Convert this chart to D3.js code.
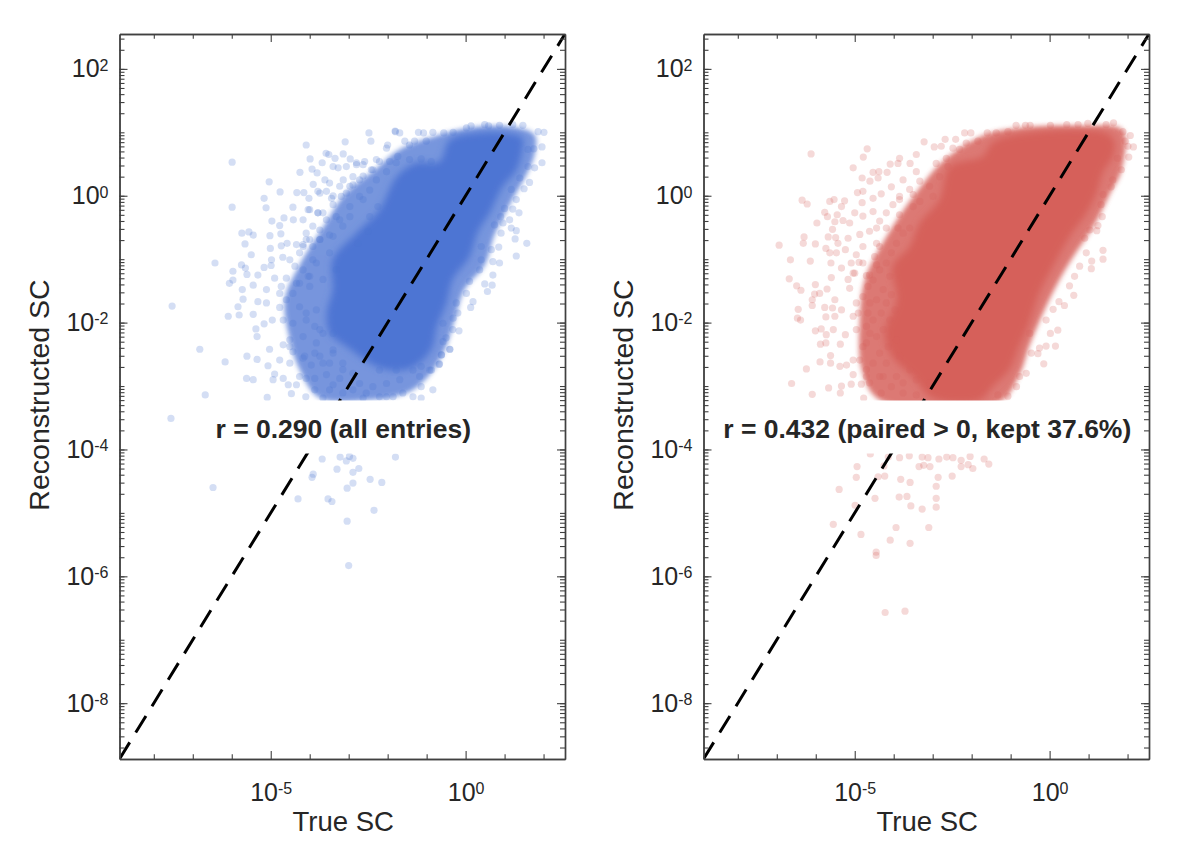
<!DOCTYPE html>
<html>
<head>
<meta charset="utf-8">
<title>True vs reconstructed SC</title>
<script src="https://cdn.jsdelivr.net/npm/d3@7"></script>
<style>
  body { margin: 0; background: #fff; }
  text { font-family: "Liberation Sans", Arial, sans-serif; fill: #262626; }
</style>
</head>
<body>
<svg id="chart" width="1192" height="844"></svg>
<script>
// all values are log10(True SC), log10(Reconstructed SC)
const logDomain = [-8.88, 2.55];
const yMajor = [2, 0, -2, -4, -6, -8];
const xMajor = [-5, 0];

// individually visible dots, left panel
const bluePoints = [
[-5.99,0.53],[-5.99,-0.18],[-5.04,0.22],[-4.76,0.06],[-5.17,-0.04],[-5.12,-0.19],[-4.97,-0.40],[-5.74,-0.59],[-5.56,-0.57],[-5.45,-0.62],
[-5.66,-0.76],[-5.50,-0.93],[-6.43,-1.06],[-5.97,-1.19],[-5.75,-1.09],[-5.65,-1.14],[-6.06,-1.38],[-5.97,-1.33],[-5.61,-1.24],[-5.33,-1.25],
[-5.17,-1.13],[-4.99,-1.10],[-5.73,-1.48],[-5.45,-1.41],[-5.02,-0.63],[-4.74,-0.60],[-4.09,0.80],[-3.09,0.85],[-2.48,0.99],[-2.43,0.86],
[-1.81,1.02],[-3.99,0.58],[-4.25,0.37],[-3.94,0.42],[-3.81,0.36],[-3.61,0.25],[-3.58,0.67],[-3.51,0.65],[-3.68,0.52],[-3.35,0.59],
[-3.14,0.66],[-2.96,0.58],[-3.27,0.44],[-4.33,0.05],[-4.15,0.05],[-3.91,0.18],[-3.79,0.07],[-4.02,-0.04],[-4.43,-0.18],[-4.66,-0.35],
[-4.42,-0.38],[-4.77,-0.47],[-5.01,-0.83],[-4.73,-0.79],[-4.58,-0.75],[-4.34,-0.77],[-4.98,-1.01],[-4.69,-0.97],[-4.17,-0.77],[-4.09,-0.59],
[-3.79,-0.27],[-4.04,-0.22],[-3.40,0.0],[-3.06,0.04],[-2.89,0.17],[-2.63,0.31],[-2.03,0.75],[-2.29,0.57],[-2.59,0.54],[-2.80,0.49],
[-3.23,0.15],[-3.57,0.07],[-3.74,-0.69],[-4.17,-0.38],[-4.38,-1.11],[-4.60,-1.30],[-4.26,-1.38],[-4.90,-1.30],[-5.11,-1.48],[-4.73,-1.43],
[-4.43,-1.54],[-4.04,-1.27],[-3.92,-1.01],
[-7.53,-1.74],[-6.09,-1.90],[-5.84,-1.75],[-5.71,-1.63],[-5.81,-1.88],[-5.45,-1.87],[-6.82,-2.42],[-6.17,-2.62],[-5.61,-2.53],[-5.35,-2.58],
[-5.62,-2.88],[-5.45,-2.90],[-6.68,-3.14],[-5.09,-3.18],[-7.56,-3.51],[-5.38,-2.10],[-5.35,-2.22],[-5.17,-2.02],[-5.33,-1.67],[-5.11,-1.69],
[-4.96,-1.96],[-4.77,-1.76],[-5.03,-2.42],[-5.07,-2.68],[-4.94,-2.90],[-4.68,-2.88],[-4.90,-2.81],[-4.55,-2.98],[-4.47,-3.12],[-4.26,-2.85],
[-4.09,-2.88],[-3.87,-2.88],[-4.34,-2.98],[-4.10,-3.17],[-3.87,-3.06],[-4.77,-2.59],[-4.51,-2.64],[-4.17,-2.56],[-3.96,-2.67],[-4.68,-2.35],
[-4.51,-2.38],[-4.43,-2.46],[-3.74,-2.53],[-3.57,-2.82],[-3.40,-2.98],[-3.66,-3.19],[-2.89,-3.06],[-2.55,-3.11],[-2.21,-3.17],[-1.86,-3.17],
[-1.61,-3.11],[-1.35,-3.17],[-1.14,-3.01],[-0.84,-3.06],[-1.14,-3.19],[-0.92,-2.75],[-0.67,-2.65],[-0.62,-2.51],[-0.41,-2.42],[-0.33,-2.11],
[-0.58,-2.30],
[-3.68,-4.15],[-3.22,-4.12],[-2.98,-4.11],[-3.06,-4.18],[-2.89,-4.14],[-1.80,-4.12],[-3.30,-4.31],[-2.74,-4.30],[-2.89,-4.36],[-3.91,-4.39],
[-3.94,-4.44],[-2.45,-4.47],[-2.15,-4.52],[-2.89,-4.53],[-3.04,-4.61],[-6.48,-4.60],[-4.30,-4.78],[-3.53,-4.78],[-3.43,-4.82],[-2.35,-4.96],
[-3.04,-5.13],[-3.00,-5.83],
[-1.80,1.01],[-1.69,0.99],[-1.56,0.86],[-1.21,1.00],[-1.08,0.99],[-0.84,1.00],[-0.56,0.99],[-0.32,1.00],[0.14,1.10],[0.02,1.07],
[0.49,1.12],[0.59,1.10],[0.87,1.11],[1.21,1.12],[1.47,1.11],[1.86,1.01],[2.01,1.00],[1.96,0.77],[1.75,0.74],[1.60,0.73],
[1.96,0.52],[1.77,0.44],[1.60,0.46],[1.39,0.28],[1.64,0.21],[1.50,0.11],[1.17,0.10],[1.30,-0.06],[1.21,-0.21],[1.37,-0.27],
[1.00,-0.20],[0.90,-0.33],[1.13,-0.38],[0.96,-0.43],[0.74,-0.46],[1.17,-0.51],[0.91,-0.59],[1.30,-0.55],[1.27,-0.68],[1.57,-0.75],
[1.30,-0.95],[0.85,-0.81],[0.66,-0.85],[0.40,-0.80],[0.70,-1.04],[0.87,-1.06],[0.40,-1.01],[0.70,-1.25],[0.36,-1.17],[0.49,-1.39],
[0.68,-1.41],[0.56,-1.51],[0.10,-1.35],[0.02,-1.54],[0.19,-1.67],[0.13,-1.76],[-0.24,-1.69],[-0.20,-1.85],[-0.32,-1.93],[-0.58,-2.01],
[-0.17,-2.13],[-0.50,-2.24],[-0.40,-2.42],[-0.62,-2.51],[-0.68,-2.66],[-0.88,-2.75],[-1.14,-2.69],
[-2.21,0.54],[-2.00,0.80],[-1.95,0.54],[-1.74,0.62],[-1.44,0.80],[-1.31,0.86],[-1.01,0.86],[-0.88,0.54],[-1.14,0.58],[-1.44,0.57],
[-2.63,0.49],[-2.42,0.41],[-2.72,0.25],[-2.97,0.15],[-3.19,-0.01],[-2.63,-0.06],[-3.44,-0.04],[-2.25,-0.17],[-2.46,-0.33],[-2.97,-0.33],
[-3.32,-0.33],[-3.66,-0.27],[-3.79,-0.27],[-4.00,-0.22],[-3.15,-0.48],[-3.49,-0.62],[-4.00,-0.69],[-4.17,-0.80],[-3.74,-0.69],[-2.76,-0.75],
[-2.50,-0.56],[-4.00,-1.27],[-4.09,-1.85],[-3.87,-2.06],[-3.66,-2.17],[-4.13,-2.53],[-3.87,-2.48],[-3.49,-2.64],[-3.15,-2.74],[-3.40,-2.48],
[-3.74,0.04],[-3.40,-0.14],[-3.23,-0.38],[-3.57,-0.38],[-3.92,-0.48],[-4.09,-0.69],[-3.74,-0.54],[-3.40,-0.64],[-4.26,-0.90],[-3.92,-0.80],
[-4.51,-1.01],[-4.17,-1.17],[-3.83,-1.06],[-3.49,-0.90],[-4.34,-1.38],[-4.00,-1.43],[-3.66,-1.32],[-3.32,-1.17],[-4.77,-1.54],[-2.72,-0.01],
[-2.97,-0.17],[-2.46,0.09],[-2.29,0.25],[-2.03,0.38],[-1.78,0.52],[-2.38,0.41],[-2.89,0.30],[-3.14,0.25],[-3.49,0.20],[-3.40,0.46],
[-3.06,0.46],[-2.80,0.52],
[-4.68,-1.96],[-4.60,-1.64],[-4.26,-1.75],[-4.43,-2.01],[-4.09,-1.96],[-3.83,-1.80],[-3.74,-2.11],[-4.17,-2.22],[-4.51,-2.27],[-3.83,-2.32],
[-3.40,-2.17],[-3.40,-2.43],[-3.66,-2.64],[-3.15,-2.64],[-3.23,-2.88],[-2.72,-2.96],[-2.38,-3.01],[-2.03,-2.96],[-1.69,-2.90],[-2.21,-2.75],
[-1.78,-2.75],[-1.35,-2.75],[-1.18,-2.85],[-2.89,-2.80],[-3.49,-3.06],[-3.15,-3.11],[-2.63,-3.19],[-2.03,-3.17]
];

// individually visible dots, right panel
const redPoints = [
[-6.12,0.66],[-4.68,0.74],[-4.78,0.61],[-5.04,0.44],[-4.09,0.50],[-3.89,0.51],[-3.85,0.59],[-3.42,0.65],[-3.22,0.85],[-2.96,0.77],
[-2.68,0.89],[-2.41,0.89],[-2.18,0.99],[-2.02,0.99],[-1.60,0.99],[-1.37,0.99],[-2.78,0.78],[-3.58,0.51],[-4.53,0.37],[-4.38,0.38],
[-4.17,0.37],[-3.76,0.25],[-4.81,0.28],[-4.61,0.23],[-4.40,0.28],[-4.06,0.14],[-4.93,0.05],[-4.79,0.07],[-4.53,-0.04],[-4.32,0.03],
[-6.35,-0.07],[-6.22,-0.13],[-5.64,-0.09],[-5.53,-0.06],[-5.26,-0.08],[-5.34,-0.17],[-4.81,-0.11],[-5.77,-0.26],[-5.70,-0.33],[-5.45,-0.30],
[-5.51,-0.41],[-5.30,-0.39],[-5.97,-0.43],[-5.57,-0.53],[-5.13,-0.43],[-5.00,-0.27],[-4.79,-0.32],[-4.53,-0.25],[-4.02,-0.14],[-3.85,-0.01],
[-3.50,0.02],[-6.94,-0.78],[-6.30,-0.65],[-6.32,-0.75],[-6.01,-0.76],[-5.68,-0.65],[-5.74,-0.83],[-5.49,-0.66],[-5.43,-0.75],[-5.17,-0.67],
[-5.64,-0.90],[-5.47,-0.90],[-6.65,-1.01],[-6.14,-1.03],[-5.61,-1.06],[-5.24,-0.85],[-4.87,-0.61],[-4.44,-0.75],[-6.68,-1.31],[-6.49,-1.42],
[-6.38,-1.49],[-6.01,-1.40],[-5.90,-1.54],[-6.03,-1.55],[-6.09,-1.64],[-6.09,-1.73],[-6.45,-1.79],[-5.71,-1.47],[-5.60,-1.29],[-5.34,-1.14],
[-5.04,-1.22],[-5.13,-1.46],[-5.51,-1.64],[-5.77,-1.76],[-5.57,-1.77],[-6.47,-1.93],[-6.39,-1.96],[-6.01,-2.13],[-5.86,-2.10],[-5.74,-1.91],
[-5.51,-1.90],[-5.55,-2.11],[-5.73,-2.19],[-5.88,-2.34],[-5.74,-2.32],[-5.37,-2.34],[-5.24,-2.19],[-5.04,-1.90],[-5.34,-1.80],[-4.96,-2.11],
[-5.62,-2.52],[-5.89,-2.62],[-5.62,-2.64],[-5.38,-2.69],[-5.21,-2.67],[-6.24,-2.73],[-5.04,-2.59],[-4.79,-2.38],[-4.61,-2.17],[-5.04,-2.82],
[-4.70,-2.74],[-6.62,-2.96],[-5.67,-3.03],[-6.09,-3.13],[-5.34,-3.00],[-5.09,-2.97],[-4.83,-2.97],[-5.37,-3.11],[-4.77,-3.19],[-4.62,-2.95],
[-4.36,-2.85],[-4.32,-3.11],[-4.06,-3.01],[-3.76,-3.11],[-3.42,-3.14],
[-4.60,-4.07],[-4.14,-4.12],[-3.85,-4.13],[-3.60,-4.10],[-3.27,-4.12],[-3.12,-4.13],[-2.84,-4.15],[-2.64,-4.12],[-2.48,-4.13],[-2.27,-4.17],
[-2.04,-4.11],[-1.68,-4.15],[-1.56,-4.23],[-1.97,-4.30],[-2.09,-4.24],[-2.27,-4.27],[-4.94,-4.27],[-4.25,-4.26],[-3.35,-4.27],[-3.23,-4.25],
[-3.07,-4.27],[-4.96,-4.44],[-4.40,-4.43],[-4.23,-4.42],[-3.82,-4.47],[-3.58,-4.52],[-2.86,-4.44],[-2.50,-4.42],[-2.91,-4.58],[-5.40,-4.63],
[-4.48,-4.77],[-3.86,-4.75],[-3.66,-4.74],[-2.91,-4.77],[-4.99,-4.88],[-3.56,-4.89],[-3.27,-4.94],[-2.91,-4.91],[-5.55,-5.18],[-3.94,-5.23],
[-3.10,-5.23],[-4.84,-5.34],[-4.09,-5.43],[-3.58,-5.48],[-4.45,-5.62],[-4.45,-5.67],[-4.22,-6.57],[-3.71,-6.55],
[-1.07,1.01],[-0.86,1.11],[-0.62,1.11],[-0.50,1.11],[0.02,1.11],[0.44,1.12],[0.73,1.12],[0.98,1.14],[1.45,1.12],[1.64,1.15],
[1.88,1.01],[2.07,0.95],[1.94,0.86],[2.01,0.78],[2.15,0.77],[2.03,0.61],[1.74,0.59],[1.84,0.41],[1.62,0.25],[1.58,0.14],
[1.37,0.02],[1.32,-0.14],[1.35,-0.33],[1.24,-0.47],[1.21,-0.55],[1.03,-0.54],[0.90,-0.67],[1.37,-0.86],[1.37,-1.00],[1.08,-1.03],
[1.07,-1.15],[0.94,-0.90],[0.77,-1.11],[0.64,-1.27],[0.62,-1.57],[0.51,-1.42],[0.38,-1.73],[0.24,-1.67],[0.09,-1.79],[0.21,-2.12],
[0.02,-2.17],[0.15,-2.37],[-0.09,-2.37],[-0.15,-2.65],[-0.30,-2.49],[-0.26,-2.40],[-0.60,-2.80],[-0.77,-2.85],[-0.85,-3.01],[-1.07,-3.16],
[-1.33,-3.14],[-0.09,-1.96],[-0.51,-2.17],[-0.47,-2.48],
[-5.00,-1.22],[-4.79,-1.06],[-4.89,-1.05],[-4.70,-1.26],[-4.62,-1.25],[-4.44,-1.09],[-4.49,-0.96],[-4.36,-0.80],[-4.44,-0.51],[-4.19,-0.51],
[-3.89,-0.51],[-3.85,-0.30],[-3.50,-0.17],[-3.33,-0.09],[-2.99,-0.01],[-3.08,0.15],[-2.82,0.30],[-2.61,0.46],[-2.91,0.51],[-2.65,0.59],
[-2.31,0.73],[-2.14,0.83],[-1.84,0.86],[-2.48,0.75],[-3.42,0.38],[-3.33,0.23],[-3.59,0.10],[-3.85,-0.06],[-4.19,-0.27],[-4.36,-0.40],
[-4.62,-0.56],[-4.79,-0.80],[-4.96,-0.93],[-5.09,-1.06],[-5.17,-1.32],[-4.96,-1.69],[-4.79,-1.59],[-4.66,-1.43],[-4.53,-1.33],[-4.36,-1.17],
[-4.19,-1.06],[-4.06,-0.90],[-3.93,-0.75],[-3.76,-0.59],[-3.59,-0.51],[-4.91,-1.85],[-4.66,-1.85],[-4.61,-1.69],[-4.44,-1.64],[-4.27,-1.48],
[-4.10,-1.27],[-4.70,-2.06],[-4.53,-1.96],[-4.32,-1.85],[-4.19,-1.69],[-4.06,-1.56],[-4.70,-2.32],[-4.44,-2.22],[-4.27,-2.11],[-4.10,-1.96],
[-3.97,-1.80],[-4.36,-2.48],[-4.14,-2.38],[-3.93,-2.27],[-4.87,-2.59],[-4.53,-2.64],[-4.19,-2.64],[-3.85,-2.53],[-4.27,-2.85],[-3.93,-2.85],
[-3.59,-2.74],[-3.76,-2.95],[-3.42,-2.90],[-3.08,-2.95],[-4.70,-2.85]
];

// outlines of the areas where the dots overlap too much to read one by one
const blueCore = [
[-3.56,-1.85],[-3.41,-1.48],[-3.41,-1.01],[-2.79,-0.58],[-2.21,-0.22],[-1.77,0.30],[-1.26,0.52],[-0.67,0.54],[-0.41,0.88],[0.28,0.99],
[1.05,0.99],[1.46,0.91],[1.46,0.73],[1.31,0.41],[0.95,0.14],[0.62,-0.27],[0.31,-0.58],[0.10,-0.96],[-0.33,-1.32],[-0.49,-1.69],
[-0.74,-2.07],[-0.85,-2.38],[-1.10,-2.59],[-1.51,-2.74],[-2.21,-2.71],[-3.05,-2.38],[-3.49,-2.16]
];
const blueHalo = [
[-4.64,-1.64],[-4.51,-2.27],[-4.26,-2.74],[-3.74,-3.19],[-2.46,-3.22],[-1.44,-3.09],[-0.92,-2.82],[-0.54,-2.43],[-0.28,-1.96],[-0.03,-1.48],
[0.49,-1.09],[0.74,-0.62],[1.13,-0.14],[1.56,0.33],[1.77,0.65],[1.77,0.96],[1.13,1.09],[0.10,1.07],[-0.67,0.96],[-1.69,0.73],
[-2.33,0.41],[-3.10,0.02],[-3.62,-0.46],[-4.26,-1.09]
];
const redCore = [
[-3.00,-3.19],[-3.51,-2.85],[-4.03,-2.54],[-4.23,-2.16],[-3.92,-1.64],[-4.03,-1.12],[-3.59,-0.80],[-3.33,-0.43],[-2.82,-0.06],[-2.56,0.46],
[-1.72,0.62],[-1.46,0.84],[-0.59,0.99],[1.46,0.99],[1.67,0.84],[1.62,0.62],[1.36,0.36],[1.21,0.05],[0.95,-0.27],[0.51,-0.65],
[0.08,-1.12],[-0.26,-1.53],[-0.56,-2.07],[-0.82,-2.43],[-1.03,-2.74],[-1.46,-3.01],[-1.79,-3.22]
];
const redHalo = [
[-4.87,-1.96],[-4.82,-2.74],[-4.36,-3.22],[-1.28,-3.25],[-0.77,-2.82],[-0.51,-2.35],[-0.13,-1.80],[0.26,-1.32],[0.64,-0.93],[1.15,-0.46],
[1.54,0.02],[1.85,0.41],[1.87,1.04],[0.77,1.10],[-0.77,1.07],[-1.67,0.96],[-2.69,0.57],[-3.46,0.02],[-4.23,-0.69],[-4.74,-1.32]
];

const panels = [
  { left: 119.5, color: "#4d75d3", points: bluePoints, core: blueCore, halo: blueHalo, haloOpacity: 0.76,
    note: "r = 0.290 (all entries)", boxPad: 10 },
  { left: 703.5, color: "#d6605a", points: redPoints, core: redCore, halo: redHalo, haloOpacity: 0.84,
    note: "r = 0.432 (paired > 0, kept 37.6%)", boxPad: 10 }
];

const plotW = 445.5, plotH = 725, plotTop = 34;
const axisColor = "#404040";
const svg = d3.select("#chart");

const defs = svg.append("defs");
defs.append("filter").attr("id", "soft").append("feGaussianBlur").attr("stdDeviation", 2.5);
defs.append("filter").attr("id", "softer").append("feGaussianBlur").attr("stdDeviation", 3.5);

// 2..9 times each power of ten, the minor ticks
function minorTicks() {
  const out = [];
  for (let e = -9; e <= 2; e++) {
    for (let k = 1; k <= 9; k++) {
      const v = k * Math.pow(10, e);
      if (v >= Math.pow(10, logDomain[0]) && v <= Math.pow(10, logDomain[1])) out.push(v);
    }
  }
  return out;
}

function styleAxis(g) {
  g.selectAll("path").attr("stroke", axisColor).attr("stroke-width", 1.4);
  g.selectAll("line").attr("stroke", axisColor).attr("stroke-width", 1.1);
}

// swaps plain tick text for 10 + superscript exponent
function powerLabels(g) {
  g.selectAll("text").each(function (d) {
    const t = d3.select(this).text("");
    t.append("tspan").text("10");
    t.append("tspan").attr("dy", "-0.42em").attr("font-size", 16).text(Math.round(Math.log10(d)));
  });
}

panels.forEach((p, i) => {
  const g = svg.append("g").attr("transform", `translate(${p.left},${plotTop})`);

  const x = d3.scaleLog().domain(logDomain.map(v => Math.pow(10, v))).range([0, plotW]);
  const y = d3.scaleLog().domain(logDomain.map(v => Math.pow(10, v))).range([plotH, 0]);

  const clipId = "clip" + i;
  defs.append("clipPath").attr("id", clipId).append("rect").attr("width", plotW).attr("height", plotH);
  const plot = g.append("g").attr("clip-path", `url(#${clipId})`);

  const area = d3.line()
    .x(d => x(Math.pow(10, d[0])))
    .y(d => y(Math.pow(10, d[1])))
    .curve(d3.curveCatmullRomClosed);

  plot.append("path").attr("d", area(p.halo)).attr("fill", p.color)
    .attr("opacity", p.haloOpacity).attr("filter", "url(#soft)");
  plot.append("path").attr("d", area(p.core)).attr("fill", p.color)
    .attr("filter", "url(#softer)");

  plot.selectAll("circle").data(p.points).join("circle")
    .attr("cx", d => x(Math.pow(10, d[0])))
    .attr("cy", d => y(Math.pow(10, d[1])))
    .attr("r", 3.6)
    .attr("fill", p.color)
    .attr("fill-opacity", 0.24);

  // y = x reference
  plot.append("line")
    .attr("x1", x(Math.pow(10, logDomain[0]))).attr("y1", y(Math.pow(10, logDomain[0])))
    .attr("x2", x(Math.pow(10, logDomain[1]))).attr("y2", y(Math.pow(10, logDomain[1])))
    .attr("stroke", "#000").attr("stroke-width", 3).attr("stroke-dasharray", "19.5 11.5");

  // note with its white box
  const noteY = 438 - plotTop;
  const note = g.append("text")
    .attr("x", plotW / 2 + 1).attr("y", noteY)
    .attr("text-anchor", "middle").attr("font-weight", "bold").attr("font-size", 26.5)
    .text(p.note);
  const bb = note.node().getBBox();
  g.insert("rect", "text")
    .attr("x", bb.x - p.boxPad).attr("y", 400.5 - plotTop)
    .attr("width", bb.width + 2 * p.boxPad).attr("height", 53)
    .attr("fill", "#fff");

  // minor ticks first, on all four sides, then the labelled majors
  const xDecades = [-8, -7, -6, -4, -3, -2, -1, 1, 2].map(e => Math.pow(10, e));
  const xMaj = xMajor.map(e => Math.pow(10, e));
  const yMaj = yMajor.map(e => Math.pow(10, e));
  const yMin = minorTicks();

  g.append("g").attr("transform", `translate(0,${plotH})`)
    .call(d3.axisBottom(x).tickValues(xDecades).tickSizeInner(-4.7).tickSizeOuter(0).tickFormat(""))
    .call(styleAxis);
  g.append("g")
    .call(d3.axisTop(x).tickValues(xDecades).tickSizeInner(-4.7).tickSizeOuter(0).tickFormat(""))
    .call(styleAxis);
  g.append("g")
    .call(d3.axisLeft(y).tickValues(yMin).tickSizeInner(-5).tickSizeOuter(0).tickFormat(""))
    .call(styleAxis);
  g.append("g").attr("transform", `translate(${plotW},0)`)
    .call(d3.axisRight(y).tickValues(yMin).tickSizeInner(-5).tickSizeOuter(0).tickFormat(""))
    .call(styleAxis);

  g.append("g").attr("transform", `translate(0,${plotH})`)
    .call(d3.axisBottom(x).tickValues(xMaj).tickSizeInner(-8).tickSizeOuter(0).tickPadding(24))
    .call(styleAxis)
    .call(a => a.selectAll("text").attr("font-size", 25).attr("fill", "#262626")
      .attr("font-family", '"Liberation Sans", Arial, sans-serif'))
    .call(powerLabels);
  g.append("g")
    .call(d3.axisTop(x).tickValues(xMaj).tickSizeInner(-8).tickSizeOuter(0).tickFormat(""))
    .call(styleAxis);
  g.append("g")
    .call(d3.axisLeft(y).tickValues(yMaj).tickSizeInner(-8).tickSizeOuter(0).tickPadding(11))
    .call(styleAxis)
    .call(a => a.selectAll("text").attr("font-size", 25).attr("fill", "#262626")
      .attr("font-family", '"Liberation Sans", Arial, sans-serif'))
    .call(powerLabels);
  g.append("g").attr("transform", `translate(${plotW},0)`)
    .call(d3.axisRight(y).tickValues(yMaj).tickSizeInner(-8).tickSizeOuter(0).tickFormat(""))
    .call(styleAxis);

  g.append("text")
    .attr("x", plotW / 2 + 1).attr("y", 831 - plotTop)
    .attr("text-anchor", "middle").attr("font-size", 27.5)
    .text("True SC");
  g.append("text")
    .attr("transform", `translate(-71,${395 - plotTop}) rotate(-90)`)
    .attr("text-anchor", "middle").attr("font-size", 28.5)
    .text("Reconstructed SC");
});
</script>
</body>
</html>
